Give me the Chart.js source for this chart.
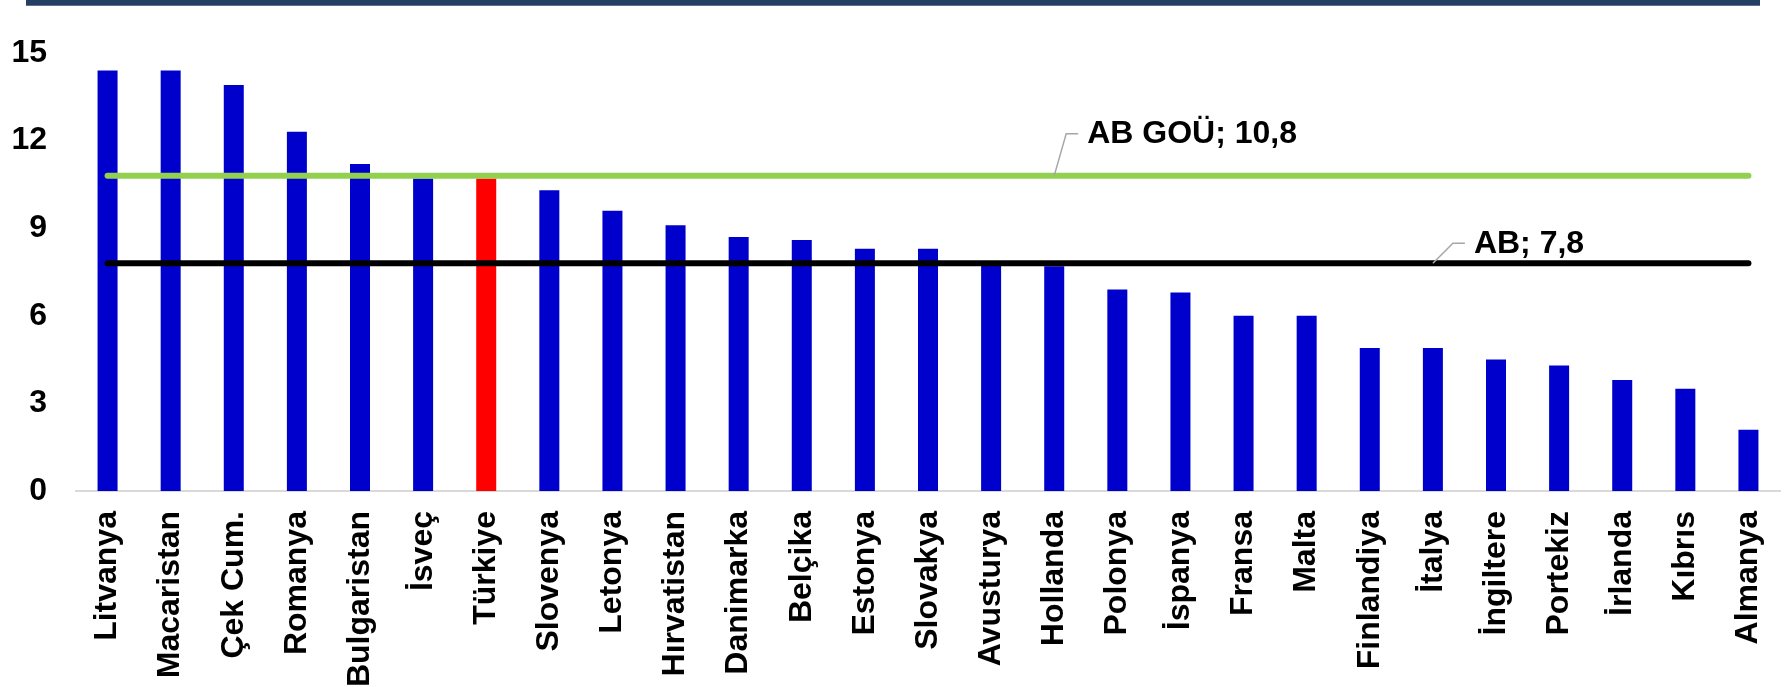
<!DOCTYPE html>
<html lang="tr">
<head>
<meta charset="utf-8">
<title>AB ülkeleri karşılaştırması</title>
<script src="https://cdn.jsdelivr.net/npm/chart.js@4.4.1/dist/chart.umd.min.js"></script>
<style>
  html, body { margin: 0; padding: 0; background: #fff; }
  #wrap { position: relative; width: 1785px; height: 687px; }
  #band { position: absolute; left: 26px; top: 0; width: 1734px; height: 5px;
          background: #243f62; border-bottom: 1px solid #5b7292; }
  canvas { display: block; }
</style>
</head>
<body>
<div id="wrap">
  <div id="band"></div>
  <canvas id="chart" width="1785" height="687"></canvas>
</div>
<script>
'use strict';

// values
const countries = ['Litvanya', 'Macaristan', 'Çek Cum.', 'Romanya', 'Bulgaristan', 'İsveç', 'Türkiye',
  'Slovenya', 'Letonya', 'Hırvatistan', 'Danimarka', 'Belçika', 'Estonya', 'Slovakya', 'Avusturya',
  'Hollanda', 'Polonya', 'İspanya', 'Fransa', 'Malta', 'Finlandiya', 'İtalya', 'İngiltere',
  'Portekiz', 'İrlanda', 'Kıbrıs', 'Almanya'];
const values = [14.4, 14.4, 13.9, 12.3, 11.2, 10.7, 10.7, 10.3, 9.6, 9.1, 8.7, 8.6, 8.3, 8.3, 7.8,
  7.7, 6.9, 6.8, 6.0, 6.0, 4.9, 4.9, 4.5, 4.3, 3.8, 3.5, 2.1];
const highlight = 'Türkiye';
const euCandidateAvg = 10.8;   // AB GOÜ
const euAvg = 7.8;             // AB
const yTicks = [0, 3, 6, 9, 12, 15];

const palette = { bar: '#0000cc', hi: '#ff0000', goü: '#92d050', ab: '#000000', leader: '#a6a6a6', axis: '#d9d9d9' };
const FONT = '"Liberation Sans", Arial, sans-serif';

const fmt = v => v.toFixed(1).replace('.', ',');

// label callouts: where on the line they hang, and the leader shape
const callouts = [
  { dataset: 1, text: `AB GOÜ; ${fmt(euCandidateAvg)}`, at: 15, dx: 12, dy: 42 },
  { dataset: 2, text: `AB; ${fmt(euAvg)}`, at: 21, dx: 20, dy: 20 }
];

const calloutPlugin = {
  id: 'callouts',
  afterDatasetsDraw(chart) {
    const { ctx, scales: { x, y } } = chart;
    ctx.save();
    callouts.forEach(c => {
      const v = chart.data.datasets[c.dataset].data[c.at];
      const px = x.getPixelForValue(c.at);
      const py = y.getPixelForValue(v);
      const kx = px + c.dx, ky = py - c.dy;
      ctx.strokeStyle = palette.leader;
      ctx.lineWidth = 1.5;
      ctx.beginPath();
      ctx.moveTo(px, py);
      ctx.lineTo(kx, ky);
      ctx.lineTo(kx + 12, ky);
      ctx.stroke();
      ctx.fillStyle = '#000';
      ctx.font = `bold 32px ${FONT}`;
      ctx.textAlign = 'left';
      ctx.textBaseline = 'middle';
      ctx.fillText(c.text, kx + 21, ky + 1);
    });
    ctx.restore();
  }
};

Chart.defaults.font.family = FONT;
Chart.defaults.color = '#000';

const refLine = (val, color) => ({
  type: 'line',
  data: countries.map(() => val),
  borderColor: color,
  borderWidth: 6,
  borderCapStyle: 'round',
  pointRadius: 0,
  tension: 0,
  fill: false,
  order: 0
});

new Chart(document.getElementById('chart'), {
  type: 'bar',
  data: {
    labels: countries,
    datasets: [
      {
        data: values,
        backgroundColor: countries.map(c => c === highlight ? palette.hi : palette.bar),
        borderWidth: 0,
        categoryPercentage: 1,
        barPercentage: 0.317,
        order: 2
      },
      refLine(euCandidateAvg, palette.goü),
      refLine(euAvg, palette.ab)
    ]
  },
  options: {
    responsive: false,
    animation: false,
    layout: { padding: { left: 11, right: 5, top: 53, bottom: 0 } },
    plugins: { legend: { display: false }, tooltip: { enabled: false } },
    scales: {
      x: {
        grid: { display: false, drawTicks: false },
        border: { display: true, color: palette.axis, width: 2 },
        ticks: {
          autoSkip: false, minRotation: 90, maxRotation: 90, padding: 20,
          font: { size: 32, weight: 'bold' }
        },
        // chart.js counts tick padding twice when sizing; pin the box sizes instead
        afterFit: s => { s.height = 196; s.paddingLeft = 0; s.paddingRight = 0; }
      },
      y: {
        min: 0, max: 15,
        afterBuildTicks: s => { s.ticks = yTicks.map(v => ({ value: v })); },
        grid: { display: false, drawTicks: false },
        border: { display: false },
        ticks: { padding: 29, font: { size: 32, weight: 'bold' } },
        afterFit: s => { s.width = 65; }
      }
    }
  },
  plugins: [calloutPlugin]
});
</script>
</body>
</html>
